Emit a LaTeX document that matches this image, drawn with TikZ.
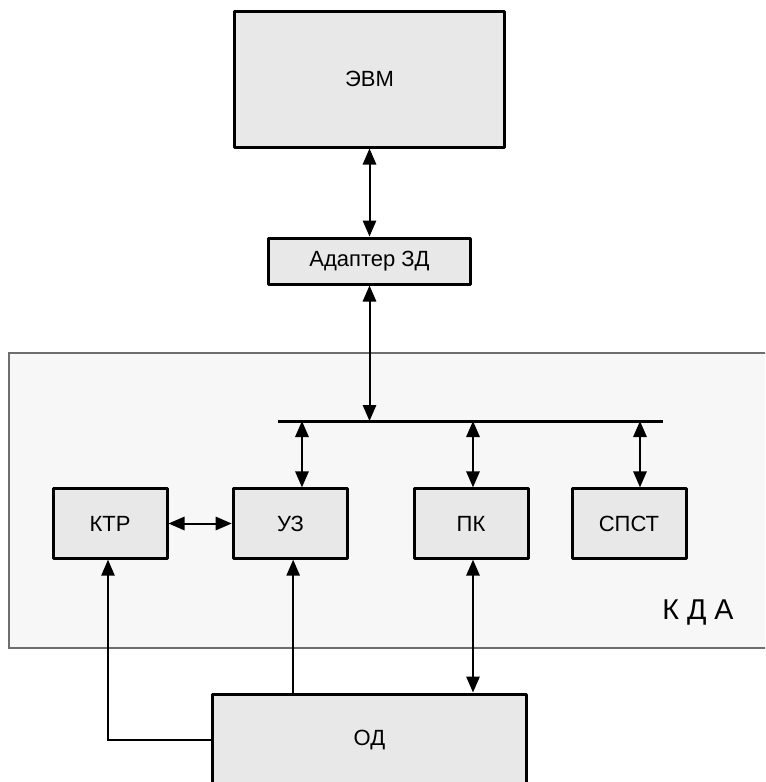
\documentclass[tikz,border=0pt]{standalone}
\usepackage{fontspec}
\setmainfont{Liberation Sans}
\usetikzlibrary{arrows.meta}

\tikzset{every picture/.style={line width=0.75pt}}
\tikzset{
  blok/.style={draw, line width=2.25pt, line join=round, fill={rgb, 255:red, 232; green, 232; blue, 232 }, inner sep=0pt, font=\fontsize{16.5}{19}\selectfont},
  svyaz/.style={line width=1.5pt, {Triangle[length=12pt,width=10pt]}-{Triangle[length=12pt,width=10pt]}},
  vhod/.style={line width=1.2pt, -{Triangle[length=12pt,width=10pt]}}
}

\begin{document}
\begin{tikzpicture}[x=0.75pt,y=0.75pt,yscale=-1,xscale=1]
\useasboundingbox (0,0) rectangle (765,782);
\clip (0,0) rectangle (765,782);

%Shape: Rectangle [id:kda]
\draw  [color={rgb, 255:red, 110; green, 110; blue, 110 }, fill={rgb, 255:red, 247; green, 247; blue, 247 }, line width=1pt]  (9,353) rectangle (775,648) ;

% Text Node
\node [blok, minimum width=203pt, minimum height=102pt] (evm) at (369.5,79) {ЭВМ};
% Text Node
\node [blok, minimum width=152pt, minimum height=34.5pt] (adapter) at (369.5,261) {Адаптер ЗД};
% Text Node
\node [blok, minimum width=85.5pt, minimum height=52pt] (ktr) at (110,523.5) {КТР};
% Text Node
\node [blok, minimum width=86pt, minimum height=52pt] (uz) at (290.5,523.5) {УЗ};
% Text Node
\node [blok, minimum width=85.5pt, minimum height=52pt] (pk) at (471,523.5) {ПК};
% Text Node
\node [blok, minimum width=85.5pt, minimum height=52pt] (spst) at (629,523.5) {СПСТ};
% Text Node
\node [blok, minimum width=236pt, minimum height=69pt] (od) at (369.5,740) {ОД};
% Text Node
\node [font=\fontsize{21.5}{26}\selectfont] (kdatext) at (698,612) {К Д А};

%Straight Lines [id:bus]
\coordinate (busl) at (278,421);
\coordinate (busr) at (663,421);
\draw [line width=2.25pt]  (busl) -- (busr) ;

%Straight Lines
\draw [svyaz]  (evm.south) -- (adapter.north) ;
\draw [svyaz]  (adapter.south) -- (adapter.south |- busl) ;
\draw [svyaz]  ([xshift=8.6pt]uz.north) -- ([xshift=8.6pt]uz.north |- busl) ;
\draw [svyaz]  ([xshift=1.5pt]pk.north) -- ([xshift=1.5pt]pk.north |- busl) ;
\draw [svyaz]  ([xshift=8.25pt]spst.north) -- ([xshift=8.25pt]spst.north |- busl) ;
\draw [svyaz]  (ktr) -- (uz) ;
\draw [svyaz]  ([xshift=1.5pt]pk.south) -- ([xshift=1.5pt]pk.south |- od.north) ;

%Straight Lines
\draw [vhod]  (od.west) -| ([xshift=-1.5pt]ktr.south) ;
\draw [vhod]  ([xshift=2pt]uz.south |- od.north) -- ([xshift=2pt]uz.south) ;

\end{tikzpicture}
\end{document}
